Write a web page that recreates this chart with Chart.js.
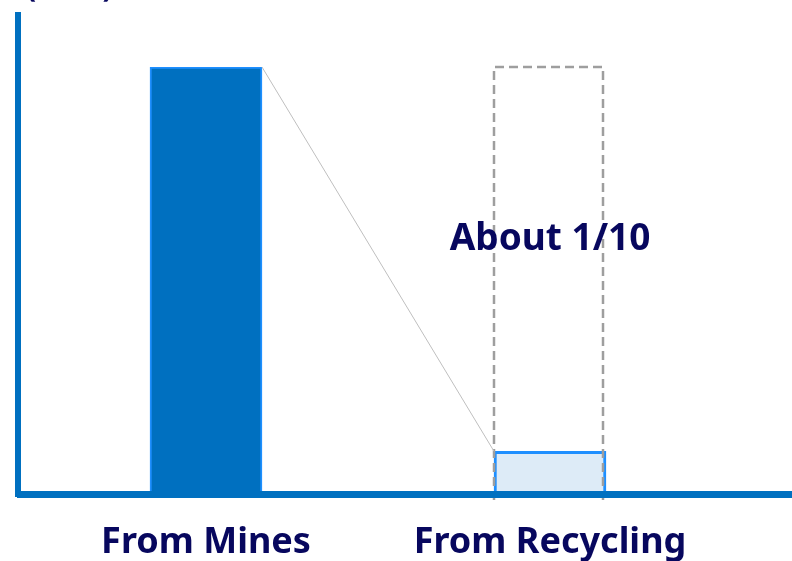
<!DOCTYPE html>
<html>
<head>
<meta charset="utf-8">
<script src="https://cdn.jsdelivr.net/npm/chart.js@4"></script>
<style>
  html, body { margin: 0; padding: 0; background: #fff; }
  #wrap { width: 792px; height: 561px; overflow: hidden; }
</style>
</head>
<body>
<div id="wrap"><canvas id="supplyChart" width="792" height="561"></canvas></div>
<script>
// Supply source comparison (relative amounts)
const categories  = ['From Mines', 'From Recycling'];
const amounts     = [100, 10];
const ratioLabel  = 'About 1/10';
const unitLabel   = '(tons)';

const AXIS_BLUE = '#0070C0';
const TEXT_NAVY = '#07075E';
const FONT      = '"Noto Sans", "Open Sans", sans-serif';

/* ─── Extra drawing: axes, comparison outline, connector, note ─── */
const decorations = {
    id: 'decorations',
    afterDatasetsDraw(chart) {
        const ctx  = chart.ctx;
        const y    = chart.scales.y;
        const bars = chart.getDatasetMeta(0).data;
        const big  = bars[0];
        const small = bars[1];
        const bigTop   = y.getPixelForValue(amounts[0]);
        const smallTop = y.getPixelForValue(amounts[1]);
        const base     = y.getPixelForValue(0);

        ctx.save();

        // dashed outline showing the mined amount over the recycled bar
        const sLeft  = small.x - small.width / 2;
        const sRight = small.x + small.width / 2 - 3;
        ctx.strokeStyle = '#9E9E9E';
        ctx.lineWidth = 2.5;
        ctx.setLineDash([9, 5]);
        ctx.beginPath();
        ctx.moveTo(sLeft, base + 6);
        ctx.lineTo(sLeft, bigTop);
        ctx.lineTo(sRight, bigTop);
        ctx.lineTo(sRight, base + 6);
        ctx.stroke();
        ctx.setLineDash([]);

        // connector from top-right of the big bar to top-left of the small one
        ctx.strokeStyle = '#BFBFBF';
        ctx.lineWidth = 1;
        ctx.beginPath();
        ctx.moveTo(big.x + big.width / 2, bigTop);
        ctx.lineTo(sLeft, smallTop);
        ctx.stroke();

        // axes
        ctx.fillStyle = AXIS_BLUE;
        ctx.fillRect(15, 12, 6, base - 12 + 3);
        ctx.fillRect(17, base - 3, chart.width - 17, 7);

        // ratio note
        ctx.fillStyle = TEXT_NAVY;
        ctx.font = 'bold 37px ' + FONT;
        ctx.textAlign = 'center';
        ctx.textBaseline = 'middle';
        ctx.fillText(ratioLabel, small.x, y.getPixelForValue(59.5));

        // unit label, mostly above the canvas edge
        ctx.textAlign = 'left';
        ctx.textBaseline = 'alphabetic';
        ctx.font = 'bold 30px ' + FONT;
        ctx.fillText(unitLabel, 26, -3);

        ctx.restore();
    }
};

new Chart(document.getElementById('supplyChart'), {
    type: 'bar',
    data: {
        labels: categories,
        datasets: [{
            data: amounts,
            backgroundColor: [AXIS_BLUE, '#DDEBF7'],
            borderColor: ['#1E8FFF', '#1E8FFF'],
            borderWidth: [2, 3],
            borderSkipped: 'bottom',
            barThickness: 112,
        }],
    },
    options: {
        responsive: false,
        animation: false,
        layout: { padding: { left: 34, right: 70, top: 67, bottom: 0 } },
        plugins: {
            legend: { display: false },
            tooltip: { enabled: false },
        },
        scales: {
            x: {
                grid: { display: false, drawTicks: false },
                border: { display: false },
                ticks: {
                    color: TEXT_NAVY,
                    padding: 27,
                    font: { family: FONT, size: 36, weight: 'bold' },
                },
                afterFit(scale) { scale.height = 67; },
            },
            y: {
                display: false,
                min: 0,
                max: 100,
            },
        },
    },
    plugins: [decorations],
});
</script>
</body>
</html>
